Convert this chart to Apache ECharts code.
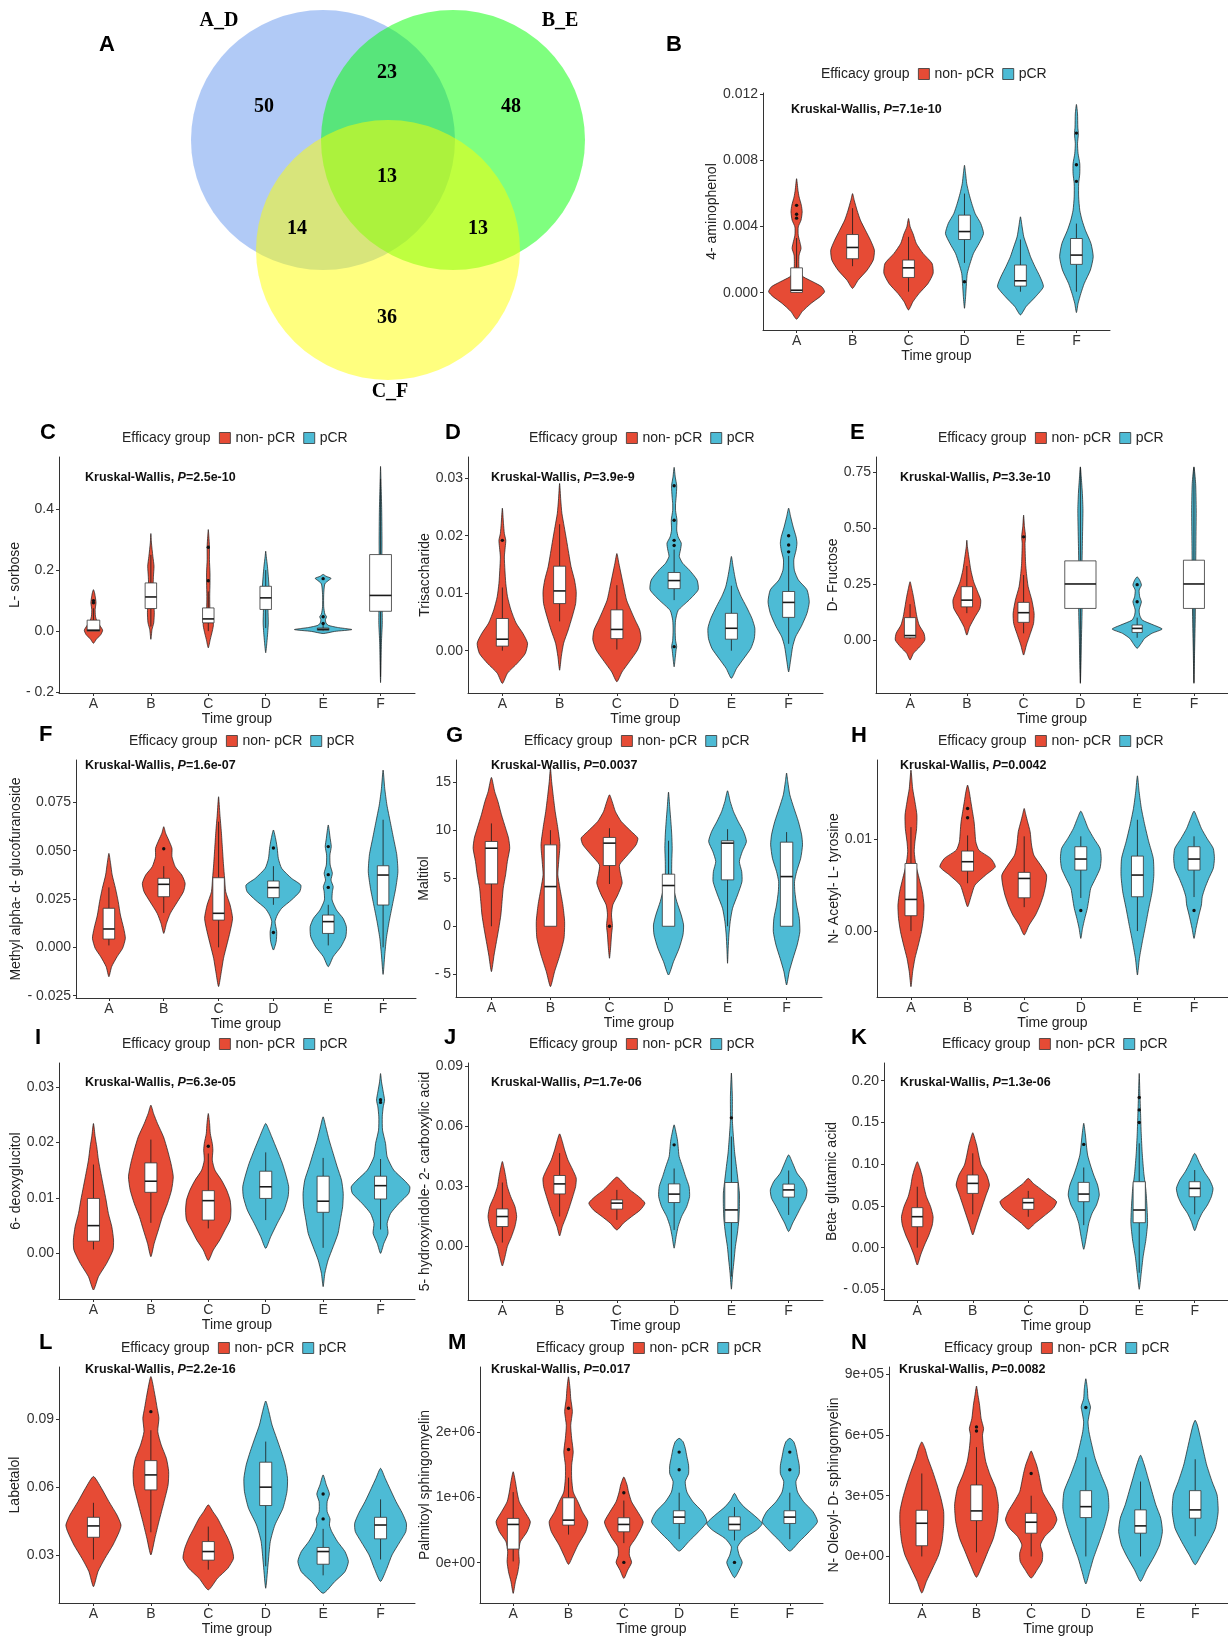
<!DOCTYPE html>
<html>
<head>
    <meta charset="utf-8">
    <title>Venn + violin plots</title>
    <style>html, body { margin: 0; padding: 0; background: #fff; }</style>
</head>
<body>
    <div id="main" style="width: 1228px; height: 1638px;"></div>
    <script src="https://cdn.jsdelivr.net/npm/echarts@6/dist/echarts.min.js"></script>
    <script type="text/javascript">
        // ---------- data ----------
        var timeGroups = ['A', 'B', 'C', 'D', 'E', 'F'];
        var efficacy = ['non- pCR', 'pCR'];          // A-C are non- pCR, D-F are pCR

        // Venn: set names and region counts
        var vennSets = ['A_D', 'B_E', 'C_F'];
        // A_D only, A_D&B_E, B_E only, all three, A_D&C_F, B_E&C_F, C_F only
        var vennCounts = [50, 23, 48, 13, 14, 13, 36];

        var panelIds = ['B', 'C', 'D', 'E', 'F', 'G', 'H', 'I', 'J', 'K', 'L', 'M', 'N'];
        var yNames = ['4- aminophenol', 'L- sorbose', 'Trisaccharide', 'D- Fructose',
            'Methyl alpha- d- glucofuranoside', 'Maltitol', 'N- Acetyl- L- tyrosine', '6- deoxyglucitol',
            '5- hydroxyindole- 2- carboxylic acid', 'Beta- glutamic acid', 'Labetalol',
            'Palmitoyl sphingomyelin', 'N- Oleoyl- D- sphingomyelin'];
        var pValues = ['7.1e-10', '2.5e-10', '3.9e-9', '3.3e-10', '1.6e-07', '0.0037', '0.0042',
            '6.3e-05', '1.7e-06', '1.3e-06', '2.2e-16', '0.017', '0.0082'];
        var yRanges = [[-0.00225, 0.01205], [-0.203, 0.571], [-0.00736, 0.0337], [-0.236, 0.816],
            [-0.0262, 0.0969], [-7.36, 17.3], [-0.00717, 0.0186], [-0.00822, 0.0343], [-0.0267, 0.0917],
            [-0.0627, 0.2212], [0.0088, 0.1129], [-615000, 2990000], [-230000, 936000]];
        var yTicks = [[0, 0.004, 0.008, 0.012], [-0.2, 0, 0.2, 0.4], [0, 0.01, 0.02, 0.03], [0, 0.25, 0.5, 0.75],
            [-0.025, 0, 0.025, 0.05, 0.075], [-5, 0, 5, 10, 15], [0, 0.01], [0, 0.01, 0.02, 0.03],
            [0, 0.03, 0.06, 0.09], [-0.05, 0, 0.05, 0.1, 0.15, 0.2], [0.03, 0.06, 0.09],
            [0, 1000000, 2000000], [0, 300000, 600000, 900000]];
        var yTickLabels = [['0.000', '0.004', '0.008', '0.012'], ['- 0.2', '0.0', '0.2', '0.4'],
            ['0.00', '0.01', '0.02', '0.03'], ['0.00', '0.25', '0.50', '0.75'],
            ['- 0.025', '0.000', '0.025', '0.050', '0.075'], ['- 5', '0', '5', '10', '15'], ['0.00', '0.01'],
            ['0.00', '0.01', '0.02', '0.03'], ['0.00', '0.03', '0.06', '0.09'],
            ['- 0.05', '0.00', '0.05', '0.10', '0.15', '0.20'], ['0.03', '0.06', '0.09'],
            ['0e+00', '1e+06', '2e+06'], ['0e+00', '3e+05', '6e+05', '9e+05']];

        // violin outlines: [value, half width in category units], bottom to top
        // boxes: [lower whisker, q1, median, q3, upper whisker]; outliers: [group 1-6, value]
        var vioB = [
            [[-0.0016,0],[-0.00114,0.10],[-0.00064,0.26],[-0.00024,0.42],[0.00006,0.50],[0.00036,0.45],[0.00066,0.29],[0.00096,0.12],[0.00126,0.05],[0.00177,0.04],[0.00227,0.045],[0.00267,0.08],[0.00297,0.065],[0.00347,0.03],[0.00397,0.03],[0.00438,0.08],[0.00488,0.1],[0.00528,0.085],[0.00578,0.045],[0.00618,0.025],[0.00688,0]],
            [[0.00026,0],[0.00076,0.1],[0.00136,0.26],[0.00197,0.37],[0.00257,0.39],[0.00317,0.32],[0.00377,0.23],[0.00438,0.14],[0.00498,0.08],[0.00558,0.03],[0.00598,0]],
            [[-0.00104,0],[-0.00054,0.08],[-0.00004,0.19],[0.00056,0.35],[0.00117,0.44],[0.00177,0.42],[0.00237,0.26],[0.00297,0.14],[0.00357,0.08],[0.00397,0.03],[0.00448,0]],
            [[-0.00094,0],[-0.00024,0.02],[0.00056,0.035],[0.00117,0.05],[0.00177,0.1],[0.00237,0.16],[0.00297,0.26],[0.00357,0.34],[0.00418,0.29],[0.00478,0.19],[0.00538,0.13],[0.00598,0.08],[0.00658,0.04],[0.00718,0.02],[0.00769,0]],
            [[-0.00134,0],[-0.00084,0.1],[-0.00024,0.27],[0.00036,0.41],[0.00096,0.35],[0.00157,0.26],[0.00217,0.18],[0.00277,0.12],[0.00337,0.06],[0.00397,0.03],[0.00458,0]],
            [[-0.0012,0],[-0.00064,0.03],[-0.00004,0.08],[0.00056,0.14],[0.00137,0.25],[0.00217,0.3],[0.00297,0.26],[0.00377,0.16],[0.00438,0.1],[0.00498,0.06],[0.00578,0.04],[0.00658,0.04],[0.00718,0.06],[0.00779,0.06],[0.00839,0.03],[0.00899,0.02],[0.00959,0.035],[0.00999,0.025],[0.01079,0.02],[0.01136,0]]
        ];
        var boxB = [[0,0.00002,0.00015,0.0015,0.0033],[0.0016,0.00205,0.00273,0.00351,0.0051],[0.00006,0.00092,0.0015,0.00197,0.00337],[0.0018,0.00321,0.00369,0.00468,0.00598],[0.00006,0.0004,0.00072,0.00167,0.00321],[0.00006,0.00171,0.00227,0.00327,0.00417]];
        var outB = [[1,0.00527],[1,0.00473],[1,0.0045],[4,0.00066],[6,0.00963],[6,0.00772],[6,0.00672]];

        var vioC = [
            [[-0.04,0],[-0.027,0.05],[-0.011,0.13],[0.003,0.16],[0.016,0.12],[0.033,0.06],[0.049,0.035],[0.071,0.03],[0.093,0.045],[0.109,0.035],[0.125,0.02],[0.136,0]],
            [[-0.027,0],[0.005,0.02],[0.027,0.05],[0.06,0.06],[0.093,0.05],[0.125,0.035],[0.18,0.045],[0.213,0.055],[0.245,0.035],[0.289,0.01],[0.32,0]],
            [[-0.055,0],[-0.027,0.035],[0,0.07],[0.022,0.09],[0.044,0.06],[0.071,0.03],[0.114,0.025],[0.158,0.03],[0.191,0.03],[0.234,0.02],[0.278,0.02],[0.311,0.01],[0.333,0]],
            [[-0.071,0],[-0.038,0.02],[-0.005,0.035],[0.027,0.045],[0.071,0.04],[0.104,0.045],[0.136,0.06],[0.18,0.045],[0.213,0.03],[0.245,0.01],[0.262,0]],
            [[-0.008,0],[-0.001,0.2],[0.005,0.5],[0.012,0.25],[0.019,0.09],[0.027,0.05],[0.038,0.04],[0.047,0.06],[0.056,0.03],[0.08,0.01],[0.12,0.01],[0.155,0.03],[0.167,0.1],[0.173,0.14],[0.18,0.05],[0.186,0]],
            [[-0.169,0],[-0.038,0.015],[0.027,0.03],[0.114,0.025],[0.18,0.02],[0.289,0.025],[0.398,0.02],[0.474,0.01],[0.54,0]]
        ];
        var boxC = [[0,0,0.003,0.036,0.075],[0.015,0.074,0.112,0.158,0.25],[0,0.027,0.04,0.076,0.13],[0.01,0.071,0.109,0.147,0.2],[0,0.003,0.006,0.01,0.02],[-0.15,0.065,0.117,0.251,0.5]];
        var outC = [[1,0.093],[1,0.1],[3,0.165],[3,0.275],[5,0.025],[5,0.047],[5,0.172]];

        var vioD = [
            [[-0.0057,0],[-0.0039,0.09],[-0.0022,0.26],[-0.0005,0.4],[0.0013,0.44],[0.003,0.36],[0.0048,0.24],[0.0071,0.15],[0.0094,0.09],[0.0117,0.06],[0.014,0.045],[0.0163,0.035],[0.018,0.05],[0.0192,0.06],[0.0204,0.035],[0.0221,0.02],[0.0248,0]],
            [[-0.0034,0],[-0.001,0.03],[0.0013,0.07],[0.0036,0.15],[0.0059,0.22],[0.0082,0.28],[0.0103,0.29],[0.0123,0.26],[0.0146,0.2],[0.0169,0.16],[0.0193,0.12],[0.0216,0.08],[0.0239,0.04],[0.0262,0.02],[0.0291,0]],
            [[-0.0054,0],[-0.0037,0.09],[-0.0019,0.22],[0.0001,0.36],[0.0019,0.42],[0.0036,0.4],[0.0053,0.32],[0.0071,0.24],[0.0088,0.17],[0.0111,0.12],[0.0135,0.07],[0.0152,0.035],[0.0169,0]],
            [[-0.0028,0],[-0.0012,0.02],[0.0002,0.035],[0.0007,0.045],[0.0018,0.025],[0.0036,0.018],[0.0053,0.025],[0.007,0.07],[0.0088,0.26],[0.0106,0.42],[0.0123,0.4],[0.0141,0.26],[0.0152,0.15],[0.0164,0.09],[0.0175,0.11],[0.0187,0.125],[0.0198,0.07],[0.021,0.045],[0.0227,0.05],[0.0244,0.025],[0.0256,0.025],[0.0267,0.035],[0.0287,0.045],[0.0302,0.02],[0.0319,0]],
            [[-0.0048,0],[-0.0031,0.09],[-0.0013,0.22],[0.0004,0.34],[0.0021,0.4],[0.0039,0.41],[0.0056,0.36],[0.0077,0.26],[0.0094,0.17],[0.0111,0.1],[0.0129,0.06],[0.0146,0.03],[0.0164,0]],
            [[-0.0037,0],[-0.0016,0.035],[0.0007,0.07],[0.0024,0.12],[0.0042,0.22],[0.0065,0.32],[0.0085,0.36],[0.0106,0.32],[0.0123,0.17],[0.014,0.1],[0.0158,0.09],[0.0175,0.13],[0.0187,0.145],[0.0198,0.13],[0.0215,0.08],[0.0233,0.035],[0.0248,0]]
        ];
        var boxD = [[0,0.0008,0.002,0.0056,0.011],[0.0051,0.0082,0.0104,0.0147,0.022],[0.0002,0.0021,0.0037,0.0071,0.0114],[0.0088,0.0108,0.0122,0.0136,0.0176],[0,0.002,0.0039,0.0065,0.0113],[0.0012,0.0058,0.0084,0.0103,0.0165]];
        var outD = [[1,0.0192],[4,0.0007],[4,0.0183],[4,0.0192],[4,0.0227],[4,0.0287],[6,0.0172],[6,0.0184],[6,0.02]];

        var vioE = [
            [[-0.089,0],[-0.059,0.06],[-0.03,0.17],[0,0.26],[0.03,0.245],[0.067,0.16],[0.104,0.12],[0.148,0.09],[0.193,0.06],[0.23,0.03],[0.26,0]],
            [[0.022,0],[0.059,0.05],[0.104,0.145],[0.141,0.23],[0.178,0.245],[0.215,0.19],[0.26,0.12],[0.312,0.07],[0.371,0.035],[0.416,0.01],[0.445,0]],
            [[-0.067,0],[-0.022,0.05],[0.03,0.12],[0.074,0.175],[0.119,0.185],[0.178,0.145],[0.238,0.08],[0.297,0.05],[0.342,0.035],[0.431,0.025],[0.46,0.035],[0.505,0.015],[0.557,0]],
            [[-0.193,0],[-0.089,0.012],[0,0.018],[0.134,0.03],[0.282,0.025],[0.431,0.035],[0.579,0.045],[0.653,0.035],[0.728,0.015],[0.772,0]],
            [[-0.037,0],[-0.015,0.07],[0.007,0.13],[0.03,0.26],[0.049,0.44],[0.067,0.29],[0.089,0.09],[0.111,0.045],[0.134,0.035],[0.156,0.06],[0.171,0.075],[0.193,0.045],[0.223,0.035],[0.245,0.075],[0.267,0.045],[0.282,0]],
            [[-0.193,0],[-0.045,0.012],[0.104,0.024],[0.282,0.03],[0.431,0.035],[0.579,0.04],[0.698,0.03],[0.772,0]]
        ];
        var boxE = [[0.005,0.01,0.02,0.1,0.16],[0.12,0.148,0.178,0.238,0.33],[0.03,0.079,0.122,0.168,0.29],[-0.19,0.141,0.25,0.353,0.77],[0.01,0.034,0.052,0.067,0.1],[-0.19,0.141,0.25,0.356,0.77]];
        var outE = [[3,0.46],[5,0.171],[5,0.247]];

        var vioF = [
            [[-0.0152,0],[-0.01,0.05],[-0.0048,0.15],[-0.0005,0.25],[0.0047,0.3],[0.0098,0.27],[0.0167,0.21],[0.0236,0.17],[0.0305,0.12],[0.0374,0.06],[0.0435,0.03],[0.0486,0]],
            [[0.0072,0],[0.0124,0.05],[0.0176,0.12],[0.0236,0.25],[0.0288,0.36],[0.0331,0.39],[0.0374,0.33],[0.0417,0.21],[0.0469,0.15],[0.0512,0.15],[0.0555,0.09],[0.059,0.035],[0.0624,0]],
            [[-0.0203,0],[-0.0126,0.05],[-0.0057,0.09],[0.0012,0.15],[0.0081,0.21],[0.015,0.255],[0.0219,0.21],[0.0288,0.13],[0.0357,0.11],[0.0426,0.09],[0.0512,0.07],[0.0598,0.05],[0.0684,0.025],[0.0779,0]],
            [[-0.0014,0],[0.0029,0.05],[0.0081,0.06],[0.0133,0.03],[0.0167,0.07],[0.0202,0.15],[0.0245,0.33],[0.0288,0.48],[0.0322,0.5],[0.0357,0.33],[0.0409,0.15],[0.046,0.09],[0.0512,0.07],[0.0555,0.045],[0.0607,0]],
            [[-0.01,0],[-0.0048,0.09],[0.0003,0.23],[0.0055,0.32],[0.0107,0.33],[0.015,0.27],[0.0193,0.15],[0.0245,0.07],[0.0288,0.075],[0.0314,0.09],[0.0348,0.05],[0.0383,0.075],[0.0426,0.035],[0.0477,0.03],[0.0521,0.055],[0.0564,0.035],[0.0633,0]],
            [[-0.014,0],[-0.004,0.03],[0.0047,0.06],[0.0133,0.11],[0.0219,0.17],[0.0305,0.23],[0.0391,0.27],[0.0478,0.25],[0.0564,0.19],[0.065,0.13],[0.0736,0.07],[0.0822,0.03],[0.0917,0]]
        ];
        var boxF = [[0.001,0.0043,0.0095,0.0202,0.031],[0.0178,0.0262,0.0326,0.0357,0.042],[0,0.0141,0.0176,0.036,0.065],[0.022,0.0257,0.0309,0.0343,0.042],[0.001,0.0072,0.0133,0.0167,0.022],[0,0.0219,0.0374,0.0422,0.066]];
        var outF = [[2,0.051],[4,0.0077],[4,0.0514],[5,0.031],[5,0.0376],[5,0.0521]];

        var vioG = [
            [[-4.72,0],[-2.99,0.045],[-1.6,0.085],[-0.21,0.125],[1.18,0.16],[2.57,0.18],[3.96,0.2],[5.35,0.24],[6.74,0.27],[8.12,0.31],[9.17,0.29],[10.21,0.24],[11.6,0.17],[12.99,0.11],[14.03,0.055],[15.49,0]],
            [[-6.28,0],[-4.72,0.07],[-2.99,0.16],[-1.25,0.23],[0.49,0.24],[2.22,0.21],[3.96,0.16],[5.35,0.125],[6.74,0.14],[8.47,0.16],[10.21,0.125],[11.94,0.08],[13.68,0.045],[15.07,0.02],[16.46,0]],
            [[-3.33,0],[-1.94,0.023],[-0.9,0.034],[0.07,0.05],[1.18,0.034],[2.22,0.056],[3.26,0.14],[4.48,0.215],[5.52,0.185],[6.39,0.17],[7.43,0.31],[8.47,0.45],[9.17,0.48],[9.86,0.37],[10.9,0.2],[11.94,0.1],[12.99,0.045],[13.68,0]],
            [[-5.07,0],[-3.68,0.085],[-2.29,0.18],[-0.9,0.245],[0.14,0.255],[1.18,0.215],[2.57,0.14],[3.96,0.085],[5.35,0.055],[6.74,0.055],[8.12,0.062],[9.51,0.055],[10.9,0.04],[12.29,0.022],[13.96,0]],
            [[-3.85,0],[-2.29,0.011],[-0.9,0.023],[0.49,0.045],[1.87,0.085],[3.26,0.17],[4.65,0.245],[5.69,0.24],[6.74,0.2],[7.78,0.25],[8.82,0.32],[9.86,0.27],[10.9,0.18],[11.94,0.1],[12.99,0.045],[14.1,0]],
            [[-6.11,0],[-4.72,0.045],[-3.33,0.11],[-1.94,0.18],[-0.56,0.225],[0.83,0.215],[2.22,0.17],[3.61,0.14],[4.65,0.135],[5.69,0.17],[7.08,0.24],[8.47,0.27],[9.51,0.255],[10.9,0.2],[12.29,0.125],[13.68,0.055],[15.07,0.02],[15.94,0]]
        ];
        var boxG = [[0,4.41,8.12,8.82,10.7],[0,0,4.13,8.47,10.0],[4.4,6.32,8.65,9.24,10.2],[0,0,4.24,5.42,8.9],[0,4.83,8.65,8.89,10.1],[0,0,5.17,8.75,9.8]];
        var outG = [[3,0]];

        var vioH = [
            [[-0.00605,0],[-0.00442,0.03],[-0.00297,0.07],[-0.00152,0.13],[-0.00007,0.185],[0.00138,0.22],[0.00283,0.23],[0.00428,0.2],[0.00572,0.145],[0.00717,0.087],[0.00862,0.058],[0.0097,0.07],[0.01116,0.1],[0.01261,0.105],[0.01406,0.07],[0.0155,0.03],[0.0175,0]],
            [[0.00264,0],[0.00373,0.06],[0.005,0.13],[0.00609,0.32],[0.00699,0.49],[0.0079,0.41],[0.0088,0.2],[0.00971,0.145],[0.0108,0.13],[0.01188,0.115],[0.01297,0.087],[0.01406,0.058],[0.01515,0.03],[0.01587,0]],
            [[-0.00043,0],[0.00065,0.087],[0.00174,0.2],[0.00283,0.28],[0.00391,0.34],[0.005,0.38],[0.00609,0.395],[0.00717,0.29],[0.00826,0.17],[0.00935,0.13],[0.0108,0.105],[0.01188,0.06],[0.01261,0.03],[0.01333,0]],
            [[-0.0008,0],[0.00029,0.03],[0.00138,0.07],[0.00246,0.115],[0.00355,0.145],[0.00464,0.175],[0.00572,0.26],[0.00681,0.34],[0.0079,0.36],[0.00899,0.34],[0.01007,0.23],[0.01116,0.13],[0.01225,0.06],[0.01304,0]],
            [[-0.00478,0],[-0.00297,0.035],[-0.00116,0.087],[0.00065,0.145],[0.00246,0.2],[0.00428,0.26],[0.00609,0.29],[0.0079,0.28],[0.00971,0.2],[0.01152,0.13],[0.01333,0.07],[0.01515,0.03],[0.01688,0]],
            [[-0.0008,0],[0.00029,0.035],[0.00174,0.087],[0.00283,0.13],[0.00373,0.145],[0.00464,0.19],[0.00572,0.26],[0.00681,0.34],[0.0079,0.36],[0.00899,0.34],[0.01007,0.23],[0.01116,0.13],[0.01225,0.06],[0.01304,0]]
        ];
        var boxH = [[0,0.00167,0.00344,0.00735,0.0113],[0.0052,0.00652,0.00754,0.0087,0.0104],[0.0026,0.00362,0.00572,0.00638,0.0103],[0.0036,0.00663,0.00783,0.00917,0.0103],[0,0.00373,0.00609,0.00815,0.0121],[0.0037,0.00663,0.00783,0.00917,0.0103]];
        var outH = [[2,0.01232],[2,0.01333],[4,0.00224],[6,0.00224]];

        var vioI = [
            [[-0.0066,0],[-0.0042,0.087],[-0.0018,0.23],[0.0006,0.34],[0.0024,0.35],[0.0048,0.32],[0.0072,0.26],[0.0096,0.22],[0.012,0.175],[0.0144,0.13],[0.0168,0.087],[0.0192,0.058],[0.021,0.03],[0.0234,0]],
            [[-0.0006,0],[0.0018,0.058],[0.0042,0.13],[0.0066,0.2],[0.009,0.29],[0.0114,0.36],[0.0138,0.39],[0.0162,0.35],[0.0186,0.29],[0.021,0.22],[0.0234,0.115],[0.0252,0.047],[0.0267,0]],
            [[-0.0013,0],[0.0006,0.087],[0.0024,0.2],[0.0042,0.29],[0.006,0.38],[0.0078,0.395],[0.0096,0.38],[0.0114,0.32],[0.0132,0.23],[0.015,0.115],[0.0168,0.07],[0.0186,0.08],[0.0198,0.07],[0.0216,0.035],[0.0234,0.023],[0.0252,0]],
            [[0.0009,0],[0.003,0.087],[0.0054,0.2],[0.0078,0.32],[0.0102,0.39],[0.012,0.4],[0.0138,0.36],[0.0162,0.29],[0.0186,0.2],[0.021,0.105],[0.0222,0.058],[0.0234,0]],
            [[-0.006,0],[-0.0036,0.03],[-0.0012,0.087],[0.0012,0.175],[0.0036,0.26],[0.006,0.3],[0.0084,0.34],[0.0108,0.35],[0.0132,0.32],[0.0156,0.245],[0.018,0.175],[0.0204,0.105],[0.0228,0.047],[0.0246,0]],
            [[0,0],[0.0018,0.058],[0.0036,0.13],[0.0054,0.115],[0.0072,0.175],[0.009,0.32],[0.0108,0.49],[0.012,0.51],[0.0132,0.41],[0.015,0.23],[0.0174,0.115],[0.0198,0.087],[0.0222,0.035],[0.0246,0.03],[0.0264,0.047],[0.0276,0.07],[0.0291,0.047],[0.0309,0.017],[0.0324,0]]
        ];
        var boxI = [[0.0007,0.0022,0.005,0.0099,0.016],[0.0055,0.011,0.013,0.0163,0.0205],[0.0045,0.006,0.0095,0.0113,0.018],[0.006,0.0099,0.012,0.0148,0.0182],[0.001,0.0074,0.0094,0.0139,0.0172],[0.0043,0.0098,0.0122,0.0139,0.017]];
        var outI = [[3,0.0193],[6,0.0277],[6,0.0272]];

        var vioJ = [
            [[-0.0097,0],[-0.005,0.047],[0,0.087],[0.005,0.16],[0.01,0.22],[0.015,0.25],[0.02,0.22],[0.025,0.145],[0.03,0.087],[0.035,0.058],[0.0392,0.03],[0.0425,0]],
            [[0.0053,0],[0.01,0.047],[0.015,0.115],[0.02,0.175],[0.025,0.23],[0.03,0.28],[0.0342,0.29],[0.0383,0.23],[0.0433,0.145],[0.0483,0.087],[0.0525,0.047],[0.0563,0]],
            [[0.0083,0],[0.0117,0.115],[0.015,0.26],[0.0183,0.41],[0.0217,0.49],[0.025,0.38],[0.0283,0.23],[0.0317,0.115],[0.0347,0]],
            [[-0.0008,0],[0.005,0.035],[0.01,0.07],[0.015,0.13],[0.02,0.22],[0.025,0.27],[0.03,0.26],[0.035,0.2],[0.04,0.145],[0.045,0.087],[0.05,0.07],[0.0533,0.058],[0.0567,0.035],[0.0608,0]],
            [[-0.0213,0],[-0.0133,0.023],[-0.0067,0.047],[0,0.07],[0.0067,0.105],[0.0133,0.13],[0.02,0.14],[0.0267,0.14],[0.0333,0.115],[0.04,0.087],[0.0467,0.058],[0.055,0.035],[0.0633,0.017],[0.075,0.017],[0.0867,0]],
            [[0.0075,0],[0.0117,0.07],[0.0158,0.145],[0.02,0.22],[0.0242,0.3],[0.0283,0.32],[0.0325,0.26],[0.0367,0.145],[0.0417,0.07],[0.0458,0]]
        ];
        var boxJ = [[0.002,0.01,0.015,0.0188,0.032],[0.015,0.0263,0.0313,0.0355,0.0467],[0.0133,0.0187,0.0217,0.0233,0.0283],[0.0083,0.022,0.0262,0.0313,0.039],[-0.015,0.012,0.0183,0.032,0.055],[0.0158,0.0247,0.0283,0.0312,0.038]];
        var outJ = [[4,0.0508],[5,0.0643]];

        var vioK = [
            [[-0.0208,0],[-0.0088,0.06],[0.0032,0.13],[0.0152,0.21],[0.0271,0.27],[0.0371,0.285],[0.0491,0.24],[0.061,0.165],[0.073,0.12],[0.085,0.09],[0.095,0.048],[0.103,0]],
            [[0.0152,0],[0.0271,0.06],[0.0391,0.12],[0.0511,0.18],[0.063,0.24],[0.075,0.3],[0.087,0.25],[0.099,0.15],[0.1109,0.107],[0.1229,0.07],[0.1309,0.036],[0.1377,0]],
            [[0.022,0],[0.0291,0.12],[0.0371,0.27],[0.0471,0.45],[0.0551,0.51],[0.063,0.36],[0.071,0.21],[0.077,0.09],[0.083,0]],
            [[-0.002,0],[0.0132,0.048],[0.0291,0.09],[0.0411,0.15],[0.0511,0.23],[0.063,0.28],[0.075,0.25],[0.087,0.18],[0.099,0.12],[0.1109,0.07],[0.1229,0.048],[0.1349,0.03],[0.149,0]],
            [[-0.0499,0],[-0.0307,0.036],[-0.0108,0.07],[0.0092,0.12],[0.0291,0.15],[0.0491,0.14],[0.069,0.12],[0.089,0.083],[0.113,0.054],[0.1369,0.036],[0.1608,0.024],[0.1848,0.012],[0.2087,0]],
            [[0.0203,0],[0.0311,0.06],[0.0411,0.13],[0.0511,0.23],[0.061,0.3],[0.071,0.33],[0.081,0.27],[0.091,0.17],[0.101,0.09],[0.1129,0]]
        ];
        var boxK = [[0,0.0251,0.0371,0.0479,0.073],[0.04,0.065,0.077,0.087,0.113],[0.037,0.0459,0.0539,0.0591,0.068],[0.027,0.0551,0.0642,0.0782,0.096],[-0.03,0.0299,0.0451,0.079,0.125],[0.04,0.061,0.071,0.079,0.093]];
        var outK = [[4,0.1237],[5,0.15],[5,0.165],[5,0.18]];

        var vioL = [
            [[0.016,0],[0.0227,0.08],[0.0285,0.2],[0.0344,0.34],[0.0403,0.45],[0.0432,0.48],[0.0476,0.41],[0.0535,0.27],[0.0594,0.14],[0.0646,0]],
            [[0.03,0],[0.0374,0.07],[0.0447,0.14],[0.0535,0.23],[0.0609,0.3],[0.0668,0.31],[0.0726,0.27],[0.0785,0.18],[0.0844,0.12],[0.0903,0.14],[0.0947,0.11],[0.1006,0.07],[0.1087,0]],
            [[0.0146,0],[0.0197,0.16],[0.0241,0.34],[0.0285,0.44],[0.0329,0.41],[0.0374,0.34],[0.0418,0.25],[0.0462,0.16],[0.0491,0.08],[0.0521,0]],
            [[0.0153,0],[0.0256,0.04],[0.0359,0.08],[0.0432,0.16],[0.0506,0.3],[0.0579,0.37],[0.0638,0.38],[0.0697,0.34],[0.0756,0.27],[0.0815,0.19],[0.0873,0.11],[0.0932,0.055],[0.0979,0]],
            [[0.0131,0],[0.0182,0.2],[0.0226,0.38],[0.0271,0.44],[0.0315,0.38],[0.0359,0.25],[0.0403,0.15],[0.0432,0.11],[0.0459,0.12],[0.0491,0.07],[0.0535,0.07],[0.0569,0.11],[0.0609,0.055],[0.0653,0]],
            [[0.0183,0],[0.0241,0.11],[0.03,0.2],[0.0359,0.34],[0.0403,0.44],[0.044,0.45],[0.0484,0.38],[0.0535,0.27],[0.0594,0.16],[0.0638,0.08],[0.0682,0]]
        ];
        var boxL = [[0.028,0.0378,0.0428,0.0466,0.053],[0.04,0.0587,0.0653,0.0716,0.085],[0.0235,0.0277,0.0315,0.0359,0.0425],[0.025,0.0518,0.0599,0.0709,0.08],[0.021,0.0259,0.0315,0.0333,0.0415],[0.028,0.0371,0.0432,0.0466,0.0545]];
        var outL = [[2,0.0932],[5,0.0459],[5,0.0569]];

        var vioM = [
            [[-468000,0],[-290000,0.04],[-137000,0.085],[15000,0.11],[168000,0.1],[320000,0.13],[473000,0.25],[626000,0.31],[779000,0.21],[931000,0.11],[1080000,0.07],[1240000,0.04],[1390000,0]],
            [[-25000,0],[117000,0.085],[270000,0.17],[473000,0.31],[626000,0.35],[779000,0.25],[931000,0.17],[1080000,0.085],[1290000,0.057],[1490000,0.057],[1690000,0.085],[1900000,0.057],[2100000,0.04],[2310000,0.07],[2510000,0.04],[2660000,0.028],[2840000,0]],
            [[-240000,0],[-112000,0.07],[5000,0.14],[117000,0.1],[244000,0.11],[371000,0.21],[524000,0.31],[626000,0.35],[779000,0.25],[931000,0.14],[1080000,0.085],[1190000,0.057],[1310000,0]],
            [[178000,0],[321000,0.17],[473000,0.35],[626000,0.5],[779000,0.42],[931000,0.25],[1080000,0.14],[1240000,0.11],[1360000,0.17],[1490000,0.17],[1620000,0.14],[1750000,0.11],[1850000,0.07],[1900000,0]],
            [[-229000,0],[-112000,0.085],[5000,0.14],[117000,0.085],[244000,0.057],[371000,0.17],[499000,0.4],[600000,0.5],[728000,0.35],[855000,0.17],[957000,0.07],[1060000,0]],
            [[178000,0],[321000,0.17],[473000,0.35],[626000,0.5],[779000,0.42],[931000,0.25],[1080000,0.14],[1240000,0.11],[1360000,0.17],[1490000,0.17],[1620000,0.14],[1750000,0.11],[1850000,0.07],[1900000,0]]
        ];
        var boxM = [[20000,209000,585000,677000,1080000],[430000,575000,651000,992000,1300000],[300000,473000,585000,687000,950000],[360000,600000,697000,794000,1070000],[340000,499000,585000,702000,850000],[360000,600000,697000,794000,1070000]];
        var outM = [[2,1730000],[2,2360000],[3,5000],[3,1070000],[4,1420000],[4,1690000],[5,5000],[6,1420000],[6,1690000]];

        var vioN = [
            [[-181000,0],[-123000,0.085],[-57000,0.2],[8000,0.31],[74000,0.37],[156000,0.4],[222000,0.4],[287000,0.35],[353000,0.28],[419000,0.2],[485000,0.11],[534000,0.057],[566000,0]],
            [[-103000,0],[-41000,0.11],[25000,0.21],[90000,0.31],[172000,0.38],[255000,0.4],[337000,0.35],[402000,0.25],[468000,0.17],[534000,0.13],[599000,0.11],[632000,0.13],[681000,0.085],[747000,0.057],[796000,0.028],[842000,0]],
            [[-107000,0],[-66000,0.11],[-25000,0.2],[16000,0.21],[57000,0.17],[99000,0.25],[140000,0.4],[181000,0.47],[222000,0.42],[271000,0.31],[320000,0.21],[369000,0.17],[410000,0.14],[452000,0.1],[484000,0.057],[521000,0]],
            [[-136000,0],[-74000,0.07],[-8000,0.14],[74000,0.25],[156000,0.35],[238000,0.42],[320000,0.4],[402000,0.28],[484000,0.17],[550000,0.11],[616000,0.057],[665000,0.04],[714000,0.07],[739000,0.085],[780000,0.04],[829000,0.028],[878000,0]],
            [[-123000,0],[-66000,0.11],[0,0.25],[57000,0.35],[123000,0.4],[189000,0.37],[255000,0.28],[320000,0.21],[386000,0.14],[452000,0.07],[500000,0]],
            [[-41000,0],[8000,0.11],[74000,0.25],[140000,0.37],[222000,0.42],[304000,0.4],[369000,0.31],[452000,0.21],[534000,0.14],[600000,0.085],[649000,0.04],[673000,0]]
        ];
        var boxN = [[0,53000,164000,228000,410000],[20000,177000,225000,353000,540000],[0,115000,169000,213000,300000],[0,192000,246000,325000,490000],[0,115000,151000,230000,370000],[100000,189000,230000,325000,480000]];
        var outN = [[2,620000],[2,640000],[3,410000],[4,736000]];

        var violins = [vioB, vioC, vioD, vioE, vioF, vioG, vioH, vioI, vioJ, vioK, vioL, vioM, vioN];
        var boxes = [boxB, boxC, boxD, boxE, boxF, boxG, boxH, boxI, boxJ, boxK, boxL, boxM, boxN];
        var outliers = [outB, outC, outD, outE, outF, outG, outH, outI, outJ, outK, outL, outM, outN];

        // ---------- layout & style ----------
        var FONT = '"Liberation Sans", Arial, sans-serif';
        var SERIF = '"Liberation Serif", "Times New Roman", serif';
        var RED = '#E64B35', BLUE = '#4DBBD5';
        var vennColors = ['#6495ED', '#00FF00', '#FFFF00'];
        // venn drawn on a 620x410 pixel grid: [cx, cy, rx, ry]
        var vennShapes = [[323, 140, 132, 130], [453, 140, 132, 130], [388, 250, 132, 130]];
        var vennCountPos = [[264, 107], [387, 73], [511, 107], [387, 177], [297, 229], [478, 229], [387, 318]];
        var vennNamePos = [[219, 21], [560, 21], [390, 392]];

        // grid boxes [left, top, width, height]
        var gridBoxes = [[763, 93, 347, 237], [59, 457, 356, 236], [468, 457, 355, 236], [876, 457, 356, 236],
            [76, 760, 340, 238], [456, 760, 366, 237], [877, 760, 355, 237],
            [59, 1063, 356, 236], [468, 1063, 355, 237], [884, 1063, 347, 237],
            [59, 1367, 356, 236], [480, 1367, 343, 236], [889, 1367, 343, 236]];
        var letterPos = [[674, 45], [48, 433], [453, 433], [858, 433], [47, 735], [454, 736], [859, 736],
            [43, 1038], [452, 1038], [859, 1038], [47, 1343], [456, 1343], [859, 1343]];
        var legendPos = [[821, 74], [122, 438], [529, 438], [938, 438], [129, 741], [524, 741], [938, 741],
            [122, 1044], [529, 1044], [942, 1044], [121, 1348], [536, 1348], [944, 1348]];
        var kwPos = [[791, 110], [85, 478], [491, 478], [900, 478], [85, 766], [491, 766], [900, 766],
            [85, 1083], [491, 1083], [900, 1083], [85, 1370], [491, 1370], [899, 1370]];
        var yNameGap = [41, 33, 34, 33, 48, 21, 32, 33, 33, 41, 37, 45, 45];
        var boxWidths = {
            C: [0.22, 0.2, 0.2, 0.2, 0.2, 0.38],
            E: [0.2, 0.2, 0.2, 0.55, 0.18, 0.37],
            J: [0.2, 0.2, 0.2, 0.2, 0.23, 0.2],
            K: [0.2, 0.2, 0.2, 0.2, 0.22, 0.2]
        };

        function textTitle(text, x, cy, size, weight, color, fam) {
            return {
                text: text, left: x, top: cy - size * 0.6, padding: 0,
                textStyle: { fontSize: size, fontWeight: weight, color: color || '#111',
                    fontFamily: fam || FONT, lineHeight: size * 1.2 }
            };
        }

        function violinRender(pi) {
            return function (params, api) {
                var g = api.value(0);
                var prof = violins[pi][g - 1];
                var box = boxes[pi][g - 1];
                var bw = (boxWidths[panelIds[pi]] || [])[g - 1] || 0.21;
                var pts = [], k;
                for (k = 0; k < prof.length; k++) pts.push(api.coord([g + prof[k][1], prof[k][0]]));
                for (k = prof.length - 2; k > 0; k--) pts.push(api.coord([g - prof[k][1], prof[k][0]]));
                var line = { stroke: '#1a1a1a', lineWidth: 0.8 };
                var kids = [{ type: 'polygon', shape: { points: pts, smooth: 0.2 },
                    style: { fill: api.visual('color'), stroke: '#1a1a1a', lineWidth: 0.7 } }];
                var lo = api.coord([g, box[0]]), q1 = api.coord([g, box[1]]),
                    q3 = api.coord([g, box[3]]), hi = api.coord([g, box[4]]);
                kids.push({ type: 'line', shape: { x1: lo[0], y1: lo[1], x2: q1[0], y2: q1[1] }, style: line });
                kids.push({ type: 'line', shape: { x1: q3[0], y1: q3[1], x2: hi[0], y2: hi[1] }, style: line });
                var a = api.coord([g - bw / 2, box[3]]), b = api.coord([g + bw / 2, box[1]]);
                kids.push({ type: 'rect', shape: { x: a[0], y: a[1], width: b[0] - a[0], height: Math.max(b[1] - a[1], 0.5) },
                    style: { fill: '#fff', stroke: '#333', lineWidth: 0.8 } });
                var m1 = api.coord([g - bw / 2, box[2]]), m2 = api.coord([g + bw / 2, box[2]]);
                kids.push({ type: 'line', shape: { x1: m1[0], y1: m1[1], x2: m2[0], y2: m2[1] },
                    style: { stroke: '#1a1a1a', lineWidth: 1.6 } });
                outliers[pi].forEach(function (o) {
                    if (o[0] === g) {
                        var c = api.coord([g, o[1]]);
                        kids.push({ type: 'circle', shape: { cx: c[0], cy: c[1], r: 1.7 }, style: { fill: '#111' } });
                    }
                });
                return { type: 'group', children: kids };
            };
        }

        // ---------- option ----------
        var grids = [{ left: 0, top: 0, width: 620, height: 410, show: false }];
        var xAxes = [{ gridIndex: 0, type: 'value', min: 0, max: 620, show: false }];
        var yAxes = [{ gridIndex: 0, type: 'value', min: 0, max: 410, inverse: true, show: false }];
        var titles = [textTitle('A', 99, 45, 22, 'bold', '#000')];
        var legends = [];
        var series = [];

        // venn ellipses, counts and set names
        series.push({
            type: 'custom', xAxisIndex: 0, yAxisIndex: 0, silent: true,
            data: vennShapes,
            renderItem: function (params, api) {
                var c = api.coord([api.value(0), api.value(1)]);
                var s = api.size([api.value(2), api.value(3)]);
                return { type: 'circle', x: c[0], y: c[1], scaleY: s[1] / s[0],
                    shape: { cx: 0, cy: 0, r: s[0] },
                    style: { fill: vennColors[params.dataIndex], opacity: 0.5 } };
            }
        });
        function vennText(list, texts) {
            return {
                type: 'custom', xAxisIndex: 0, yAxisIndex: 0, silent: true, z: 5,
                data: list,
                renderItem: function (params, api) {
                    var c = api.coord([api.value(0), api.value(1)]);
                    return { type: 'text', x: c[0], y: c[1],
                        style: { text: String(texts[params.dataIndex]), fill: '#000', font: 'bold 20px ' + SERIF,
                            align: 'center', verticalAlign: 'middle' } };
                }
            };
        }
        series.push(vennText(vennCountPos, vennCounts));
        series.push(vennText(vennNamePos, vennSets));

        panelIds.forEach(function (id, pi) {
            var gi = pi + 1;
            var gb = gridBoxes[pi];
            var fs = 14;
            grids.push({ left: gb[0], top: gb[1], width: gb[2], height: gb[3], show: false });
            xAxes.push({
                gridIndex: gi, type: 'value', min: 0.4, max: 6.6,
                name: 'Time group', nameLocation: 'middle', nameGap: 18,
                nameTextStyle: { fontSize: fs, color: '#222', fontFamily: FONT },
                axisLine: { show: true, onZero: false, lineStyle: { color: '#333', width: 1 } },
                axisTick: { show: true, customValues: [1, 2, 3, 4, 5, 6], length: 3, lineStyle: { color: '#333' } },
                axisLabel: { customValues: [1, 2, 3, 4, 5, 6], margin: 4, fontSize: fs, color: '#333', fontFamily: FONT,
                    formatter: function (v) { return timeGroups[Math.round(v) - 1]; } },
                splitLine: { show: false }
            });
            var ticks = yTicks[pi];
            yAxes.push({
                gridIndex: gi, type: 'value', min: yRanges[pi][0], max: yRanges[pi][1],
                name: yNames[pi], nameLocation: 'middle', nameGap: yNameGap[pi],
                nameTextStyle: { fontSize: fs, color: '#222', fontFamily: FONT },
                axisLine: { show: true, onZero: false, lineStyle: { color: '#333', width: 1 } },
                axisTick: { show: true, customValues: ticks, length: 3, lineStyle: { color: '#333' } },
                axisLabel: { customValues: ticks, margin: 5, fontSize: fs, color: '#333', fontFamily: FONT,
                    formatter: function (v) {
                        var best = 0;
                        for (var j = 1; j < ticks.length; j++) {
                            if (Math.abs(ticks[j] - v) < Math.abs(ticks[best] - v)) best = j;
                        }
                        return yTickLabels[pi][best];
                    } },
                splitLine: { show: false }
            });

            // non- pCR: A-C, pCR: D-F
            [[1, 2, 3], [4, 5, 6]].forEach(function (gs, s) {
                series.push({
                    type: 'custom', name: efficacy[s], xAxisIndex: gi, yAxisIndex: gi, silent: true,
                    itemStyle: { color: s === 0 ? RED : BLUE },
                    data: gs.map(function (g) { return [g, boxes[pi][g - 1][2]]; }),
                    encode: { x: 0, y: 1 },
                    renderItem: violinRender(pi)
                });
            });

            titles.push(textTitle(id, letterPos[pi][0] - 8, letterPos[pi][1], 22, 'bold', '#000'));
            titles.push(textTitle('Efficacy group', legendPos[pi][0], legendPos[pi][1], fs, 'normal', '#222'));
            var kfs = 12.5;
            titles.push({
                text: '{b|Kruskal-Wallis, }{i|P}{b|=' + pValues[pi] + '}',
                left: kwPos[pi][0], top: kwPos[pi][1] - kfs * 0.6, padding: 0,
                textStyle: {
                    rich: {
                        b: { fontSize: kfs, fontWeight: 'bold', fontFamily: FONT, color: '#111', lineHeight: kfs * 1.2 },
                        i: { fontSize: kfs, fontWeight: 'bold', fontStyle: 'italic', fontFamily: FONT, color: '#111', lineHeight: kfs * 1.2 }
                    }
                }
            });
            legends.push({
                data: efficacy, selectedMode: false, orient: 'horizontal',
                left: legendPos[pi][0] + 97, top: legendPos[pi][1] - 7, padding: 0,
                itemWidth: 11, itemHeight: 11, itemGap: 8, icon: 'rect',
                itemStyle: { borderColor: '#333', borderWidth: 0.8 },
                textStyle: { fontSize: fs, color: '#222', fontFamily: FONT }
            });
        });

        var chart = echarts.init(document.getElementById('main'));
        chart.setOption({
            backgroundColor: '#fff',
            animation: false,
            title: titles,
            legend: legends,
            grid: grids,
            xAxis: xAxes,
            yAxis: yAxes,
            series: series
        });
    </script>
</body>
</html>
